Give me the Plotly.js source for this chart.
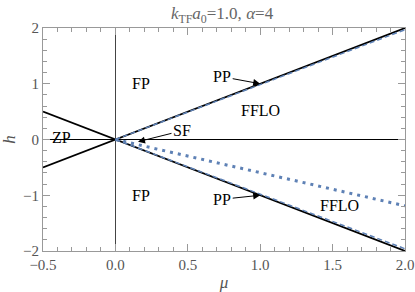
<!DOCTYPE html>
<html>
<head>
<meta charset="utf-8">
<script src="https://cdn.plot.ly/plotly-3.0.1.min.js"></script>
<style>
  body { margin: 0; padding: 0; background: #fff; }
  #plot { width: 415px; height: 292px; }
</style>
</head>
<body>
<div id="plot"></div>
<script>
// phase boundaries h = +mu and h = -mu, plus h = 0
const muFull = [-0.5, 2.0];
const hPlus = [-0.5, 2.0];
const hMinus = [0.5, -2.0];
const hZero = [0, 0];

// blue dashed boundaries (slightly inside the black lines)
const muDash = [0, 2.0];
const hDashUp = [0, 1.97];
const hDashDown = [0, -1.96];

// blue dotted curve
const muDot = [0, 0.25, 0.5, 0.75, 1.0, 1.25, 1.5, 1.75, 2.0];
const hDot = [0, -0.15, -0.3, -0.45, -0.6, -0.74, -0.89, -1.04, -1.19];

// region labels
const labelText = ["FP", "FFLO", "ZP", "FP", "FFLO"];
const labelMu = [0.18, 1.0, -0.37, 0.18, 1.545];
const labelH = [1.01, 0.52, 0.03, -1.0, -1.19];

// labels with arrows: tip position + text offset in px
const arrowText = ["PP", "SF", "PP"];
const arrowMu = [1.0, 0.156, 1.0];
const arrowH = [1.0, -0.04, -1.0];
const arrowAx = [-38, 44, -38];
const arrowAy = [-7, -11, 4];

const blue = "#5e81b5";
const serif = "Liberation Serif";

const traces = [
  { x: muFull, y: hPlus, mode: "lines", line: { color: "#000", width: 1.7 } },
  { x: muFull, y: hMinus, mode: "lines", line: { color: "#000", width: 1.7 } },
  { x: muFull, y: hZero, mode: "lines", line: { color: "#000", width: 1 } },
  { x: muDash, y: hDashUp, mode: "lines", line: { color: blue, width: 1.5, dash: "5px,3px" } },
  { x: muDash, y: hDashDown, mode: "lines", line: { color: blue, width: 1.5, dash: "5px,3px" } },
  { x: muDot, y: hDot, mode: "lines", line: { color: blue, width: 3, dash: "3px,5px" } },
  // invisible trace on the mirror axes so the top/right ticks get drawn
  { x: muFull, y: hZero, xaxis: "x2", yaxis: "y2", mode: "lines", line: { width: 0 }, hoverinfo: "skip" },
];

const annotations = [];
labelText.forEach((t, i) => {
  annotations.push({
    x: labelMu[i], y: labelH[i], text: t, showarrow: false,
    font: { family: serif, size: 16, color: "#000" },
  });
});
arrowText.forEach((t, i) => {
  annotations.push({
    x: arrowMu[i], y: arrowH[i], text: t, showarrow: true,
    ax: arrowAx[i], ay: arrowAy[i],
    arrowhead: 2, arrowsize: 1.4, arrowwidth: 1, arrowcolor: "#000",
    font: { family: serif, size: 16, color: "#000" },
  });
});

const axisCommon = {
  showgrid: false,
  showline: true,
  linecolor: "#999",
  linewidth: 1,
  ticks: "inside",
  ticklen: 7,
  tickcolor: "#999",
  ticklabeloverflow: "allow",
  tickfont: { family: serif, size: 15, color: "#555" },
};

const layout = {
  width: 415,
  height: 292,
  margin: { l: 43, r: 10, t: 28, b: 41 },
  paper_bgcolor: "#fff",
  plot_bgcolor: "#fff",
  showlegend: false,
  title: {
    text: "<i>k</i><sub>TF</sub><i>a</i><sub>0</sub>=1.0, <i>α</i>=4",
    font: { family: serif, size: 17, color: "#666" },
    x: 0.535, xanchor: "center", y: 0.975, yanchor: "top",
  },
  xaxis: {
    ...axisCommon,
    range: [-0.5, 2.0],
    dtick: 0.5,
    tick0: 0,
    tickformat: ".1f",
    zeroline: true,
    zerolinecolor: "#444",
    zerolinewidth: 1.5,
    minor: { dtick: 0.1, ticks: "inside", ticklen: 4, tickcolor: "#999" },
    title: { text: "<i>μ</i>", font: { family: serif, size: 17, color: "#555" }, standoff: 8 },
  },
  yaxis: {
    ...axisCommon,
    range: [-2, 2],
    dtick: 1,
    zeroline: false,
    minor: { dtick: 0.2, ticks: "inside", ticklen: 4, tickcolor: "#999" },
    title: { text: "<i>h</i>", font: { family: serif, size: 17, color: "#555" }, standoff: 12 },
  },
  xaxis2: {
    ...axisCommon,
    overlaying: "x",
    side: "top",
    range: [-0.5, 2.0],
    dtick: 0.5,
    tick0: 0,
    showticklabels: false,
    zeroline: false,
    minor: { dtick: 0.1, ticks: "inside", ticklen: 4, tickcolor: "#999" },
  },
  yaxis2: {
    ...axisCommon,
    overlaying: "y",
    side: "right",
    range: [-2, 2],
    dtick: 1,
    showticklabels: false,
    zeroline: false,
    minor: { dtick: 0.2, ticks: "inside", ticklen: 4, tickcolor: "#999" },
  },
  annotations: annotations,
};

Plotly.newPlot("plot", traces, layout, { displayModeBar: false, staticPlot: true });
</script>
</body>
</html>
